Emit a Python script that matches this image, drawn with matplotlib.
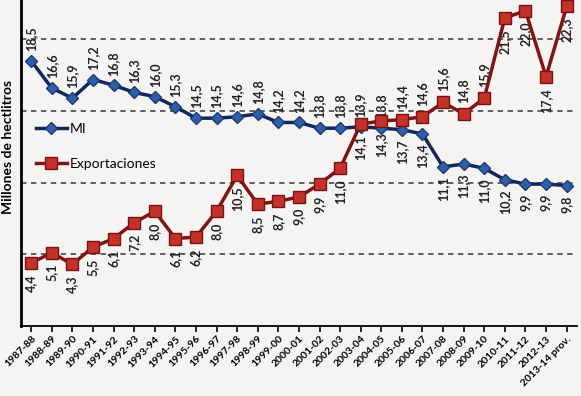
import matplotlib.pyplot as plt

# Campañas
campanas = ["1987-88", "1988-89", "1989-90", "1990-91", "1991-92", "1992-93",
            "1993-94", "1994-95", "1995-96", "1996-97", "1997-98", "1998-99",
            "1999-00", "2000-01", "2001-02", "2002-03", "2003-04", "2004-05",
            "2005-06", "2006-07", "2007-08", "2008-09", "2009-10", "2010-11",
            "2011-12", "2012-13", "2013-14 prov."]

# Mercado interior (millones de hl)
mi = [18.5, 16.6, 15.9, 17.2, 16.8, 16.3, 16.0, 15.3, 14.5, 14.5, 14.6, 14.8,
      14.2, 14.2, 13.8, 13.8, 13.9, 13.8, 13.7, 13.4, 11.1, 11.3, 11.0, 10.2,
      9.9, 9.9, 9.8]

# Exportaciones (millones de hl)
exportaciones = [4.4, 5.1, 4.3, 5.5, 6.1, 7.2, 8.0, 6.1, 6.2, 8.0, 10.5, 8.5,
                 8.7, 9.0, 9.9, 11.0, 14.1, 14.3, 14.4, 14.6, 15.6, 14.8, 15.9,
                 21.5, 22.0, 17.4, 22.3]

plt.rcParams['font.family'] = ['Lato', 'DejaVu Sans']

fig = plt.figure(figsize=(5.81, 3.96), dpi=100, facecolor="#f5f4f2")
ax = fig.add_axes([0.036, 0.177, 0.957, 0.823])
ax.set_facecolor("#f5f4f2")

x = list(range(len(campanas)))

# Lineas de referencia
for g in [5, 10, 15, 20]:
    ax.axhline(g, color="#555555", linestyle=(0, (3, 2.5)), linewidth=1.3, zorder=1)

ax.plot(x, mi, color="#12275a", linewidth=2.5, marker="D", markersize=6.5,
        markerfacecolor="#2f5fa6", markeredgecolor="#1b3a78", label="MI", zorder=3)
ax.plot(x, exportaciones, color="#7e1414", linewidth=2.5, marker="s", markersize=8.5,
        markerfacecolor="#c3312b", markeredgecolor="#7a1212", label="Exportaciones",
        zorder=4)

# Etiquetas de datos
for i in x:
    txt = f"{mi[i]:.1f}".replace(".", ",")
    if i <= 17:
        ax.annotate(txt, (i, mi[i]), xytext=(0, 7), textcoords="offset points",
                    rotation=90, ha="center", va="bottom", fontsize=9,
                    fontweight="bold", color="#222222")
    else:
        ax.annotate(txt, (i, mi[i]), xytext=(0, -7), textcoords="offset points",
                    rotation=90, ha="center", va="top", fontsize=9,
                    fontweight="bold", color="#222222")

    txt = f"{exportaciones[i]:.1f}".replace(".", ",")
    if 18 <= i <= 22:
        ax.annotate(txt, (i, exportaciones[i]), xytext=(0, 8), textcoords="offset points",
                    rotation=90, ha="center", va="bottom", fontsize=9,
                    fontweight="bold", color="#222222")
    else:
        ax.annotate(txt, (i, exportaciones[i]), xytext=(0, -8), textcoords="offset points",
                    rotation=90, ha="center", va="top", fontsize=9,
                    fontweight="bold", color="#222222")

ax.set_xlim(-0.5, len(campanas) - 0.5)
ax.set_ylim(0, 22.75)
ax.set_xticks(x)
ax.set_xticklabels(campanas, rotation=45, ha="right", rotation_mode="anchor",
                   fontsize=7.5, fontweight="bold")
ax.tick_params(axis="x", length=4, width=1.2, pad=2)
ax.set_yticks([])

for s in ["top", "right"]:
    ax.spines[s].set_visible(False)
ax.spines["left"].set_linewidth(2)
ax.spines["bottom"].set_linewidth(1.3)

ax.set_ylabel("Millones de hectlitros", fontsize=10, fontweight="bold")
ax.yaxis.set_label_coords(-0.012, 0.55)

ax.legend(loc="upper left", bbox_to_anchor=(0.005, 0.66), frameon=False,
          fontsize=10, handlelength=2.2, labelspacing=1.6, handletextpad=0.2)

fig.savefig("out.png", dpi=100, facecolor=fig.get_facecolor())
